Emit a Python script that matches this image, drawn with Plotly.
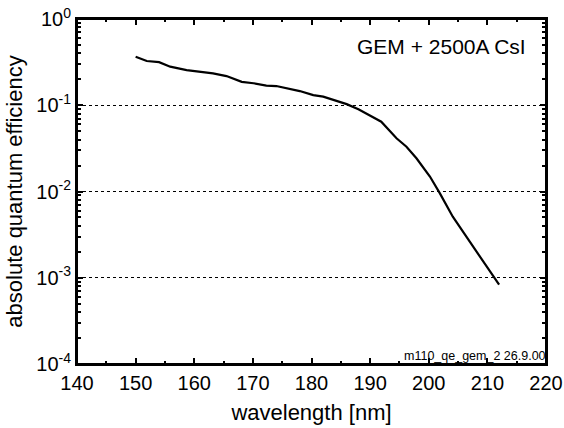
import plotly.graph_objects as go

wavelength_nm = [150.0, 151.9, 154.0, 155.9, 158.7, 161.5, 163.2, 165.5, 168.1, 170.1,
                 172.3, 174.0, 176.3, 178.0, 180.3, 182.0, 186.0, 188.0, 191.9, 194.5,
                 196.2, 197.9, 200.2, 201.9, 204.1, 206.4, 209.8, 212.0]
qe = [0.365, 0.326, 0.316, 0.280, 0.256, 0.245, 0.234, 0.218, 0.187, 0.180,
      0.169, 0.167, 0.154, 0.146, 0.131, 0.126, 0.103, 0.0897, 0.0645, 0.0414,
      0.0331, 0.0243, 0.0149, 0.0095, 0.0051, 0.0030, 0.00134, 0.00083]

x_ticks = [140, 150, 160, 170, 180, 190, 200, 210, 220]
y_tickvals = [1e-4, 1e-3, 1e-2, 1e-1, 1e0]
y_ticktext = ["10<sup>-4</sup>", "10<sup>-3</sup>", "10<sup>-2</sup>", "10<sup>-1</sup>", "10<sup>0</sup>"]
y_minor = [k * 10.0 ** e for e in range(-4, 0) for k in range(2, 10)]

font = "Liberation Sans, Arial, sans-serif"

fig = go.Figure()
fig.add_trace(go.Scatter(x=wavelength_nm, y=qe, mode="lines",
                         line=dict(color="black", width=2.2), showlegend=False))

fig.update_layout(
    width=564, height=428,
    margin=dict(l=77, r=18, t=19, b=64),
    paper_bgcolor="white", plot_bgcolor="white",
    font=dict(family=font, color="black", size=20),
    xaxis=dict(range=[140, 220], tickvals=x_ticks, ticks="inside", ticklen=6,
               tickwidth=1.5, tickcolor="black", showline=True, linecolor="black",
               linewidth=2, mirror="ticks", showgrid=False, zeroline=False,
               automargin=False,
               minor=dict(dtick=5, tick0=140, ticks="inside", ticklen=3, tickcolor="black",
                          tickwidth=1.5, showgrid=False),
               title=dict(text="wavelength [nm]", font=dict(size=22), standoff=12),
               tickfont=dict(size=20)),
    yaxis=dict(type="log", range=[-4, 0], tickvals=y_tickvals, ticktext=y_ticktext,
               ticks="inside", ticklen=6, tickwidth=1.5, tickcolor="black",
               showline=True, linecolor="black", linewidth=2, mirror="ticks",
               showgrid=True, gridcolor="black", gridwidth=1, griddash="dot",
               zeroline=False, automargin=False,
               minor=dict(tickvals=y_minor, ticks="inside", ticklen=4, tickcolor="black",
                          tickwidth=1.5, showgrid=False),
               title=dict(text="absolute quantum efficiency", font=dict(size=22), standoff=8),
               tickfont=dict(size=20)),
    shapes=[dict(type="rect", xref="paper", yref="paper", x0=0, y0=0, x1=1, y1=1,
                 line=dict(color="black", width=2), fillcolor="rgba(0,0,0,0)", layer="above")],
    annotations=[
        dict(text="GEM + 2500A CsI", xref="paper", yref="paper", x=0.962, y=0.92,
             xanchor="right", yanchor="middle", showarrow=False, font=dict(size=21)),
        dict(text="m110_qe_gem_2 26.9.00", xref="paper", yref="paper", x=1.0, y=0.0,
             xanchor="right", yanchor="bottom", showarrow=False, font=dict(size=12.5),
             xshift=2, yshift=-1),
    ],
)

fig.write_html("out.html")
